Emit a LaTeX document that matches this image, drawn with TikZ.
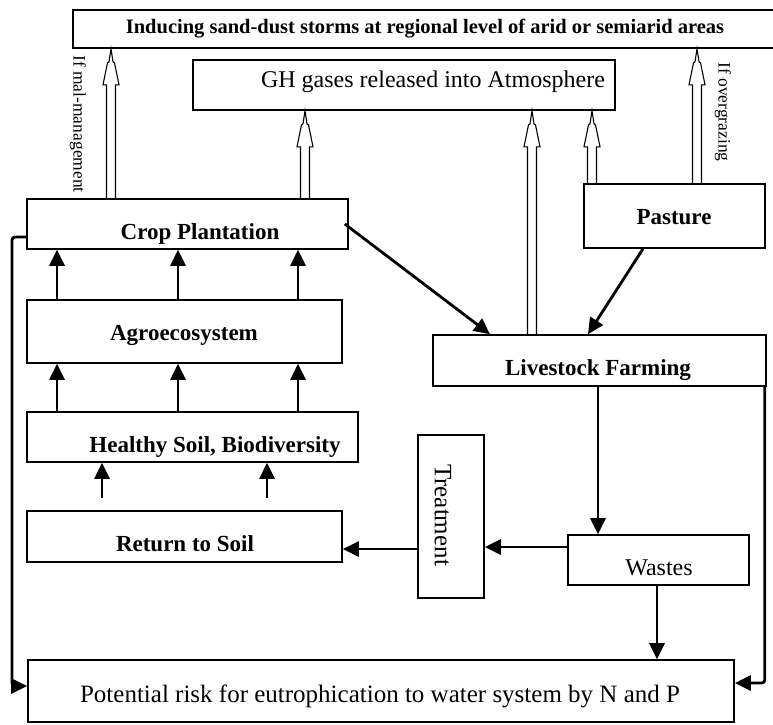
\documentclass[tikz,border=0pt]{standalone}
\usepackage{fontspec}
\setmainfont{Liberation Serif}
\usetikzlibrary{arrows.meta,calc}
\begin{document}
\begin{tikzpicture}[x=1pt,y=-1pt,
  box/.style={draw, line width=1.6pt, inner sep=0pt},
  bt/.style={font=\fontsize{23}{26}\selectfont\bfseries, inner sep=0pt, anchor=base},
  rt/.style={font=\fontsize{24}{26}\selectfont, inner sep=0pt, anchor=base},
  side/.style={font=\fontsize{17.5}{18}\selectfont, inner sep=0pt, rotate=-90},
  arr/.style={line width=2.8pt, -{Triangle[length=16pt,width=15pt]}},
  outer/.style={line width=2.8pt, rounded corners=3pt, -{Triangle[length=16pt,width=15pt]}},
  hollow/.style={line width=1.1pt, to path={let \p1=(\tikztostart), \p2=(\tikztotarget) in
    (\x1-4.5pt,\y1) -- (\x1-4.5pt,\y2-36pt) -- (\x1-8pt,\y2-36pt) -- (\x1-3.5pt,\y2-14pt)
    -- (\x1-2pt,\y2-13pt) -- (\x1,\y2) -- (\x1+2pt,\y2-13pt) -- (\x1+3.5pt,\y2-14pt)
    -- (\x1+8pt,\y2-36pt) -- (\x1+4.5pt,\y2-36pt) -- (\x1+4.5pt,\y1)}}
]
\useasboundingbox (0,0) rectangle (773,724);

% boxes
\node[box, minimum width=703pt, minimum height=38pt] (top) at (424.5,29) {};
\node[box, minimum width=422pt, minimum height=50pt] (gh) at (404,85) {};
\node[box, minimum width=321pt, minimum height=50pt] (crop) at (187.5,224) {};
\node[box, minimum width=315pt, minimum height=63pt] (agro) at (184.5,331.5) {};
\node[box, minimum width=331pt, minimum height=50pt] (healthy) at (192.5,437) {};
\node[box, minimum width=315pt, minimum height=51pt] (return) at (184.5,536.5) {};
\node[box, minimum width=181pt, minimum height=64pt] (pasture) at (674.5,216) {};
\node[box, minimum width=333pt, minimum height=51pt] (livestock) at (599.5,360.5) {};
\node[box, minimum width=66pt, minimum height=163pt] (treatment) at (451,516.5) {};
\node[box, minimum width=181pt, minimum height=50pt] (wastes) at (658.5,560) {};
\node[box, minimum width=706pt, minimum height=62pt] (potential) at (381,691) {};

% texts
\node[bt, font=\fontsize{20.5}{22}\selectfont\bfseries] (ttop) at (425,33) {Inducing sand-dust storms at regional level of arid or semiarid areas};
\node[rt] (tgh) at (433,87) {GH gases released into Atmosphere};
\node[bt] (tcrop) at (200,239) {Crop Plantation};
\node[bt] (tagro) at (184,340) {Agroecosystem};
\node[bt] (thealthy) at (215,452) {Healthy Soil, Biodiversity};
\node[bt] (treturn) at (185,551) {Return to Soil};
\node[bt] (tpasture) at (674,224) {Pasture};
\node[bt] (tlive) at (598,375) {Livestock Farming};
\node[rt] (twastes) at (659,575) {Wastes};
\node[rt, font=\fontsize{25}{26}\selectfont] (tpot) at (380,702) {Potential risk for eutrophication to water system by N and P};
\node[rt, rotate=-90, anchor=center, font=\fontsize{25}{26}\selectfont] (ttreat) at (443,515) {Treatment};
\node[side] (tmal) at (78,124) {If mal-management};
\node[side] (tover) at (723,112) {If overgrazing};

% x positions
\coordinate (ha) at (111,0);
\coordinate (hb) at (305,0);
\coordinate (hc) at (532,0);
\coordinate (hd) at (592,0);
\coordinate (he) at (697,0);
\coordinate (c1) at (57,0);
\coordinate (c2) at (178,0);
\coordinate (c3) at (298,0);
\coordinate (r1) at (102,498);
\coordinate (r2) at (267,498);

% hollow arrows
\draw[hollow] (crop.north -| ha) to (top.south -| ha);
\draw[hollow] (crop.north -| hb) to (gh.south -| hb);
\draw[hollow] (livestock.north -| hc) to (gh.south -| hc);
\draw[hollow] (pasture.north -| hd) to (gh.south -| hd);
\draw[hollow] (pasture.north -| he) to (top.south -| he);

% solid arrows
\foreach \c in {c1,c2,c3}{
  \draw[arr] (agro.north -| \c) -- (crop.south -| \c);
  \draw[arr] (healthy.north -| \c) -- (agro.south -| \c);
}
\draw[arr] (r1) -- (r1 |- healthy.south);
\draw[arr] (r2) -- (r2 |- healthy.south);
\draw[arr] ([xshift=-4pt]crop.east) -- (livestock.north -| 490,0);
\draw[arr] (pasture.south -| 643,0) -- (livestock.north -| 588,0);
\draw[arr] (livestock.south -| 598,0) -- (wastes.north -| 598,0);
\draw[arr] (wastes.west |- 0,547) -- (treatment.east |- 0,547);
\draw[arr] (treatment.west |- 0,549) -- (return.east |- 0,549);
\draw[arr] (wastes.south -| 657,0) -- (potential.north -| 657,0);
\draw[outer] (crop.west |- 0,237) -- (12,237) -- (12,686) -- (potential.west |- 0,686);
\draw[outer] ([xshift=-2pt]livestock.south east) -- ([xshift=-2pt]livestock.south east |- 0,683) -- (potential.east |- 0,683);
\end{tikzpicture}
\end{document}
